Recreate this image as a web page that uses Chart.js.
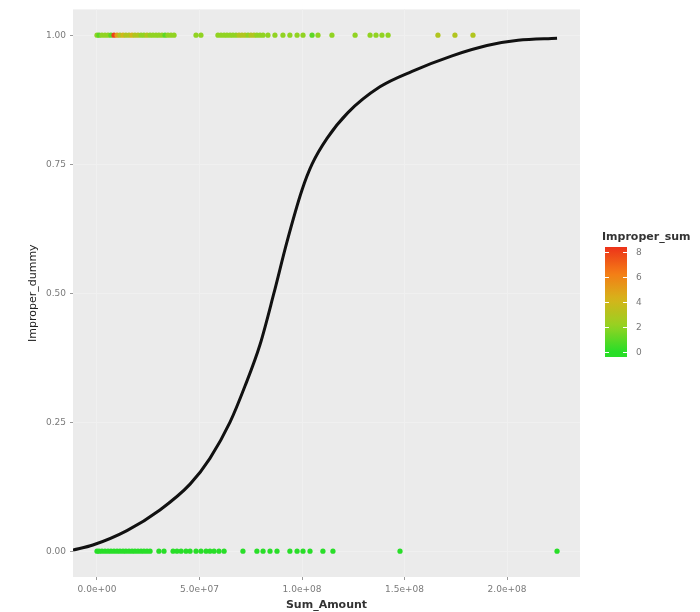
<!DOCTYPE html>
<html>
<head>
<meta charset="utf-8">
<script src="https://cdn.jsdelivr.net/npm/chart.js@4.4.1/dist/chart.umd.min.js"></script>
<style>
  html, body { margin: 0; padding: 0; background: #fff; }
  #wrap { width: 700px; height: 612px; }
</style>
</head>
<body>
<div id="wrap"><canvas id="logitChart" width="700" height="612"></canvas></div>
<script>
// fitted curve
const curveX = [-1.17e7, -0.20e7, 1.46e7, 3.07e7, 4.54e7, 5.51e7, 6.49e7, 7.22e7, 7.95e7, 8.63e7, 9.27e7,
  10.00e7, 10.49e7, 11.22e7, 12.24e7, 13.80e7, 15.37e7, 17.32e7, 19.02e7, 20.54e7, 22.44e7];
const curveY = [0.002, 0.012, 0.040, 0.080, 0.130, 0.180, 0.250, 0.320, 0.400, 0.500, 0.600,
  0.700, 0.750, 0.800, 0.850, 0.900, 0.930, 0.960, 0.980, 0.990, 0.994];

// Improper_dummy = 1 row
const topX = [0, 0.10e7, 0.24e7, 0.39e7, 0.54e7, 0.68e7, 0.83e7, 0.98e7, 1.12e7, 1.27e7, 1.41e7, 1.56e7,
  1.71e7, 1.85e7, 2.00e7, 2.15e7, 2.29e7, 2.44e7, 2.59e7, 2.73e7, 2.88e7, 3.02e7, 3.17e7, 3.32e7, 3.46e7,
  3.61e7, 3.76e7,
  4.83e7, 5.07e7,
  5.90e7, 6.05e7, 6.20e7, 6.34e7, 6.49e7, 6.63e7, 6.78e7, 6.93e7, 7.07e7, 7.22e7, 7.37e7, 7.51e7, 7.66e7,
  7.80e7, 7.95e7, 8.10e7,
  8.34e7, 8.68e7, 9.07e7, 9.41e7, 9.76e7, 10.05e7, 10.49e7, 10.78e7, 11.46e7, 12.59e7, 13.32e7, 13.61e7,
  13.90e7, 14.20e7,
  16.63e7, 17.46e7, 18.34e7];
const topSum = [2, 1, 2, 2, 2, 1, 8, 5, 3, 4, 3, 3, 4, 3, 3, 2, 2, 3, 2, 2, 2, 2, 2, 1, 2, 2, 2,
  2, 2,
  2, 2, 2, 2, 2, 2, 2, 3, 3, 3, 2, 3, 3, 2, 2, 2,
  2, 2, 2, 2, 2, 2, 1, 2, 2, 2, 2, 2, 2, 2,
  3, 3, 3];

// Improper_dummy = 0 row
const bottomX = [0, 0.10e7, 0.24e7, 0.39e7, 0.54e7, 0.68e7, 0.83e7, 0.98e7, 1.12e7, 1.27e7, 1.41e7, 1.56e7,
  1.71e7, 1.85e7, 2.00e7, 2.15e7, 2.29e7, 2.44e7, 2.59e7, 3.02e7, 3.27e7, 3.71e7, 3.90e7, 4.10e7, 4.34e7,
  4.54e7, 4.83e7, 5.07e7, 5.32e7, 5.51e7, 5.71e7, 5.95e7, 6.20e7, 7.12e7, 7.80e7, 8.10e7, 8.44e7, 8.78e7,
  9.41e7, 9.76e7, 10.05e7, 10.39e7, 11.02e7, 11.51e7, 14.78e7, 22.44e7];
const bottomSum = [0, 0, 0, 0, 0, 0, 0, 0, 0, 0, 0, 0, 0, 0, 0, 0, 0, 0, 0, 0, 0, 0, 0,
  0, 0, 0, 0, 0, 0, 0, 0, 0, 0, 0, 0, 0, 0, 0, 0, 0, 0, 0, 0, 0, 0, 0];

const xTicks = [0, 5e7, 1e8, 1.5e8, 2e8];
const xTickLabels = ['0.0e+00', '5.0e+07', '1.0e+08', '1.5e+08', '2.0e+08'];
const yTicks = [0, 0.25, 0.5, 0.75, 1];
const yTickLabels = ['0.00', '0.25', '0.50', '0.75', '1.00'];
const sumTicks = [0, 2, 4, 6, 8];
const sumRange = [0, 8.4];

// green -> red colour scale
const stops = [[0, [40, 222, 40]], [0.25, [150, 210, 34]], [0.5, [214, 180, 26]], [0.75, [244, 124, 22]], [1, [236, 50, 26]]];
function colourFor(v) {
  let t = (v - sumRange[0]) / (sumRange[1] - sumRange[0]);
  t = Math.max(0, Math.min(1, t));
  for (let i = 1; i < stops.length; i++) {
    if (t <= stops[i][0]) {
      const a = stops[i - 1], b = stops[i];
      const f = (t - a[0]) / (b[0] - a[0]);
      const c = a[1].map((ch, k) => Math.round(ch + (b[1][k] - ch) * f));
      return 'rgb(' + c.join(',') + ')';
    }
  }
  return 'rgb(' + stops[stops.length - 1][1].join(',') + ')';
}

const panelBg = {
  id: 'panelBg',
  beforeDraw(chart) {
    const { ctx, chartArea: a } = chart;
    ctx.save();
    ctx.fillStyle = '#fff';
    ctx.fillRect(0, 0, chart.width, chart.height);
    ctx.fillStyle = '#ebebeb';
    ctx.fillRect(a.left, a.top, a.right - a.left, a.bottom - a.top);
    ctx.restore();
  }
};

// colourbar legend on the right
const colourBar = {
  id: 'colourBar',
  afterDraw(chart) {
    const ctx = chart.ctx;
    const x = 605, w = 22, top = 247, bottom = 357;
    const lo = -0.4, hi = 8.4;
    const yOf = v => bottom - (v - lo) / (hi - lo) * (bottom - top);
    ctx.save();
    const g = ctx.createLinearGradient(0, bottom, 0, top);
    for (let i = 0; i <= 20; i++) {
      const v = lo + (hi - lo) * i / 20;
      g.addColorStop(i / 20, colourFor(v));
    }
    ctx.fillStyle = g;
    ctx.fillRect(x, top, w, bottom - top);
    ctx.strokeStyle = '#fff';
    ctx.lineWidth = 1;
    ctx.font = '9px "DejaVu Sans"';
    ctx.fillStyle = '#777';
    ctx.textAlign = 'left';
    ctx.textBaseline = 'middle';
    sumTicks.forEach(v => {
      const y = Math.round(yOf(v)) + 0.5;
      ctx.beginPath();
      ctx.moveTo(x, y); ctx.lineTo(x + 4, y);
      ctx.moveTo(x + w - 4, y); ctx.lineTo(x + w, y);
      ctx.stroke();
      ctx.fillText(String(v), x + w + 9, y);
    });
    ctx.font = 'bold 11px "DejaVu Sans"';
    ctx.fillStyle = '#333';
    ctx.fillText('Improper_sum', 602, 237);
    ctx.restore();
  }
};

const ctx = document.getElementById('logitChart');
new Chart(ctx, {
  type: 'scatter',
  data: {
    datasets: [
      {
        type: 'line',
        data: curveX.map((x, i) => ({ x: x, y: curveY[i] })),
        borderColor: '#111',
        borderWidth: 3,
        pointRadius: 0,
        fill: false,
        cubicInterpolationMode: 'monotone',
        order: 0
      },
      {
        data: topX.map(x => ({ x: x, y: 1 })),
        backgroundColor: c => colourFor(topSum[c.dataIndex]),
        borderWidth: 0,
        pointRadius: 2.6,
        order: 1
      },
      {
        data: bottomX.map(x => ({ x: x, y: 0 })),
        backgroundColor: c => colourFor(bottomSum[c.dataIndex]),
        borderWidth: 0,
        pointRadius: 2.6,
        order: 2
      }
    ]
  },
  options: {
    responsive: false,
    animation: false,
    layout: { padding: { top: 4, right: 120, left: 0, bottom: 0 } },
    scales: {
      x: {
        type: 'linear',
        min: -1.17e7,
        max: 2.356e8,
        afterBuildTicks: s => { s.ticks = xTicks.map(v => ({ value: v })); },
        afterFit: s => { s.height = 35; },
        grid: { color: '#f0f0f0', lineWidth: 1, tickColor: '#999', tickLength: 3 },
        border: { display: false },
        ticks: {
          padding: 4,
          maxRotation: 0,
          font: { family: 'DejaVu Sans', size: 9 },
          color: '#7a7a7a',
          callback: (v, i) => xTickLabels[i]
        },
        title: {
          display: true,
          text: 'Sum_Amount',
          font: { family: 'DejaVu Sans', size: 11, weight: 'bold' },
          color: '#333',
          padding: { top: 0, bottom: 0 }
        }
      },
      y: {
        type: 'linear',
        min: -0.05,
        max: 1.05,
        afterBuildTicks: s => { s.ticks = yTicks.map(v => ({ value: v })); },
        afterFit: s => { s.width = 73; },
        grid: { color: '#f0f0f0', lineWidth: 1, tickColor: '#999', tickLength: 3 },
        border: { display: false },
        ticks: {
          padding: 4,
          font: { family: 'DejaVu Sans', size: 9 },
          color: '#7a7a7a',
          callback: (v, i) => yTickLabels[i]
        },
        title: {
          display: true,
          text: 'Improper_dummy',
          font: { family: 'DejaVu Sans', size: 11 },
          color: '#222',
          padding: { top: 27, bottom: 0 }
        }
      }
    },
    plugins: {
      legend: { display: false },
      tooltip: { enabled: false }
    }
  },
  plugins: [panelBg, colourBar]
});
</script>
</body>
</html>
